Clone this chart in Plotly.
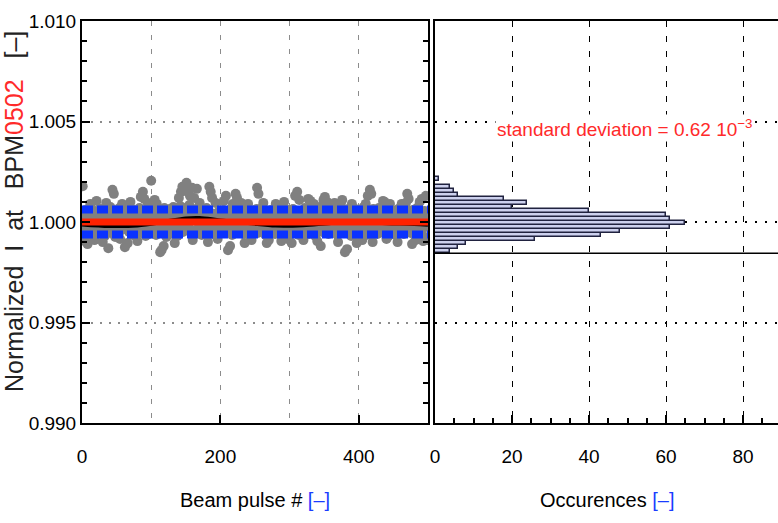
import plotly.graph_objects as go

# ---------------- data ----------------
# pulse-by-pulse deviation from 1.000, in units of 1e-5
dev_1e5 = [
    45, 178, -30, 20, -95, 60, -50, 10, -110, 35, -20, 70, 90, -65, 5, 40, -40, 25, -90, 55, -10, 105, -60, 30, -5,
    15, -45, 65, -25, 40, -100, 50, 0, -70, 30, 95, -35, 20, -130, 60, -15, 75, -55, 10, 160, -30, 140, 35, -75, 5,
    45, -20, 25, -60, 70, -85, 15, -40, 90, 0, 50, -30, -125, 35, -10, 60, -105, 20, -50, 40, 100, -25, 65, -65, 10,
    30, -45, 55, -5, 20, -95, 45, -30, 70, -15, 125, -55, 35, 150, -20, 115, 5, -70, 50, -35, 95, 25, -60, 40, -10,
    205, 15, -40, 60, -20, 110, 30, -65, 90, 0, 45, -30, 20, -150, 55, -140, 10, -50, -120, 70, -25, 35, -75, 50, -5,
    25, -45, 65, -15, 40, 0, -60, 75, 20, -105, 50, -35, 30, -70, 60, 120, -20, 80, 150, 10, 175, -50, 160, 45, 180,
    70, 195, 35, 150, -25, 85, 130, 55, -40, 170, -90, 40, 120, 15, -55, 65, 165, 25, -30, 50, 95, -10, 30, -65, 45,
    -20, 55, 10, -50, 35, 70, -35, -100, 60, 175, -15, 150, 25, 120, -60, 40, 5, -40, 95, 20, -70, -85, 50, 0, 30,
    -25, 45, -55, 15, 60, 105, -30, 35, 130, -10, 50, -140, 20, -45, -120, 65, 0, -65, 90, 30, -20, 55, 140, -35, 120,
    10, -50, 40, -15, 70, 95, -30, 25, -60, 50, -105, 5, 35, -40, 60, 90, -20, 15, -70, 45, -90, 30, -10, 55, -45,
    20, -25, 65, 170, -55, 140, 35, -15, 50, -40, 10, 75, 95, -30, 25, -65, 40, -105, 0, 55, -90, 30, -20, 60, -50,
    15, 45, -35, 25, -60, 90, 5, -20, 55, -45, 35, 70, -10, -95, 40, -30, 20, 100, -55, 50, 0, -70, -85, 30, 60,
    -15, 40, -50, -105, 25, 65, -30, 10, 130, 45, -40, 150, 20, -65, 110, 35, -20, 55, 0, -55, -90, 30, 70, -10, 45,
    -35, 20, 115, -60, 50, 105, -25, 35, 5, -45, 90, 15, -70, 60, -15, -95, 40, -30, 25, 75, -120, 10, -50, 45, 110,
    -20, 125, 30, -40, 100, 55, -60, 15, 40, -25, 65, 0, -55, 35, -10, 95, 20, -35, 50, -65, -100, 25, 60, -15, 90,
    -45, 110, 40, -20, 55, -150, 15, -55, -135, 30, 65, -30, 5, 45, -70, 90, 20, -40, 70, 0, -60, 35, -105, 50, -15,
    25, -50, 60, -20, 40, -90, 15, 75, -35, 50, 90, -65, 30, 130, -10, 45, 160, 20, 140, -45, -100, 65, 5, -30, 55,
    -25, 40, -60, 20, 70, -40, 10, 50, -15, 35, 105, -55, 100, 25, -30, -85, 60, 0, -70, 45, 90, -20, 30, -50, 15,
    55, -35, 20, -65, 40, 10, -100, 65, -25, 30, -45, 50, 90, -10, 35, -60, 15, 75, 95, -40, 140, 25, 115, -20, 45,
    -55, 30, -110, 60, 5, -30, 40, -90, 20, 70, -45, 10, 50, 100, -15, 35, 115, -65, -95, 25, 55, -25, 130, 0, -90,
]
pulses = list(range(len(dev_1e5)))
intensity = [1.0 + d * 1e-5 for d in dev_1e5]

mean_value = 1.0000
std_value = 0.00062

# running-average trace (black) read at a few pulses
run_pulses = [0, 40, 80, 120, 150, 170, 200, 240, 280, 320, 360, 400, 440, 480, 500]
run_values = [0.99988, 0.99980, 0.99983, 1.00002, 1.00018, 1.00020, 1.00008, 0.99995, 0.99982,
              0.99984, 0.99995, 1.00000, 0.99994, 0.99990, 0.99986]

# histogram: bin centres and occurrences
bin_width = 0.0002
bin_centers = [0.99855, 0.99875, 0.99895, 0.99915, 0.99935, 0.99955, 0.99975, 0.99995,
               1.00015, 1.00035, 1.00055, 1.00075, 1.00095, 1.00115, 1.00135, 1.00155,
               1.00175, 1.00195, 1.00215]
counts = [4, 6, 8, 26, 43, 48, 61, 65, 61, 60, 40, 20, 24, 18, 6, 5, 4, 0, 1]
hist_floor = 0.99845

y_ticks = [0.990, 0.995, 1.000, 1.005, 1.010]
y_ticktext = ["0.990", "0.995", "1.000", "1.005", "1.010"]
x1_ticks = [0, 200, 400]
x2_ticks = [0, 20, 40, 60, 80]

# ---------------- figure ----------------
W, H = 778, 523
L1, R1 = 82, 428
L2, R2 = 435, 778
TOP, BOT = 21, 423

fig = go.Figure()

fig.add_trace(go.Scatter(
    x=pulses, y=intensity, mode="markers",
    marker=dict(color="#808080", size=10, line=dict(width=0)),
    xaxis="x", yaxis="y", showlegend=False))

fig.add_trace(go.Scatter(
    x=run_pulses, y=run_values, mode="lines", line=dict(color="black", width=4, shape="spline"),
    xaxis="x", yaxis="y", showlegend=False))

fig.add_trace(go.Scatter(
    x=[0, 500], y=[mean_value, mean_value], mode="lines",
    line=dict(color="#ff2200", width=7), xaxis="x", yaxis="y", showlegend=False))

for s in (1, -1):
    fig.add_trace(go.Scatter(
        x=[0, 500], y=[mean_value + s * std_value] * 2, mode="lines",
        line=dict(color="#0a32ff", width=8, dash="11px,4px"),
        xaxis="x", yaxis="y", showlegend=False))

fig.add_trace(go.Bar(
    x=counts, y=bin_centers, orientation="h", width=bin_width,
    marker=dict(color="#cdd1ee", line=dict(color="#20223f", width=1.5)),
    xaxis="x2", yaxis="y2", showlegend=False))

FONT = "Liberation Sans, Arial, sans-serif"
tickfont = dict(family=FONT, size=19, color="black")

fig.update_layout(
    width=W, height=H,
    margin=dict(l=0, r=0, t=0, b=0, autoexpand=False),
    paper_bgcolor="white", plot_bgcolor="white",
    bargap=0,
    xaxis=dict(
        domain=[L1 / W, R1 / W], range=[0, 500], anchor="y", automargin=False,
        tickvals=x1_ticks, ticktext=[str(v) for v in x1_ticks],
        ticks="inside", ticklen=8, tickwidth=1.5, tickcolor="black",
        showline=True, linecolor="black", linewidth=2, mirror=True,
        showgrid=True, gridcolor="#8c8c8c", gridwidth=1, griddash="5px,9px",
        minor=dict(dtick=100, tick0=0, showgrid=True, gridcolor="#8c8c8c",
                   gridwidth=1, griddash="5px,9px", ticks=""),
        zeroline=False, tickfont=tickfont, ticklabelstandoff=15),
    yaxis=dict(
        domain=[1 - BOT / H, 1 - TOP / H], range=[0.990, 1.010], anchor="x", automargin=False,
        tickvals=y_ticks, ticktext=y_ticktext,
        ticks="inside", ticklen=8, tickwidth=1.5, tickcolor="black",
        showline=True, linecolor="black", linewidth=2, mirror="ticks",
        showgrid=True, gridcolor="#8c8c8c", gridwidth=1.5, griddash="2px,7px",
        minor=dict(dtick=0.001, tick0=0.990, ticks="inside", ticklen=5,
                   tickwidth=1.5, tickcolor="black", showgrid=False),
        zeroline=False, tickfont=tickfont),
    xaxis2=dict(
        domain=[L2 / W, 1.0], range=[0, (R2 - L2) / 3.85], anchor="y2", automargin=False,
        tickvals=x2_ticks, ticktext=[str(v) for v in x2_ticks],
        ticks="inside", ticklen=8, tickwidth=1.5, tickcolor="black",
        showline=True, linecolor="black", linewidth=2, mirror=True,
        showgrid=True, gridcolor="black", gridwidth=1.2, griddash="6px,9px",
        minor=dict(dtick=5, ticks="inside", ticklen=5, tickwidth=1.5,
                   tickcolor="black", showgrid=False),
        zeroline=False, tickfont=tickfont, ticklabelstandoff=15),
    yaxis2=dict(
        domain=[1 - BOT / H, 1 - TOP / H], range=[0.990, 1.010], anchor="x2", automargin=False,
        tickvals=y_ticks, showticklabels=False, ticks="",
        showline=True, linecolor="black", linewidth=2,
        showgrid=True, gridcolor="black", gridwidth=2, griddash="2px,8px",
        zeroline=False),
)

fig.add_shape(type="line", xref="x2 domain", yref="y2", x0=0, x1=1,
              y0=hist_floor, y1=hist_floor, line=dict(color="black", width=1.5))

titlefont = dict(family=FONT, size=20, color="black")
fig.add_annotation(xref="paper", yref="paper", x=(L1 + R1) / 2 / W, y=1 - 500 / H,
                   text="Beam pulse # <span style='color:#1a3cff'>[–]</span>",
                   showarrow=False, font=titlefont, xanchor="center", yanchor="middle")
fig.add_annotation(xref="paper", yref="paper", x=607 / W, y=1 - 500 / H,
                   text="Occurences <span style='color:#1a3cff'>[–]</span>",
                   showarrow=False, font=titlefont, xanchor="center", yanchor="middle")
fig.add_annotation(xref="paper", yref="paper", x=14 / W, y=1 - 212 / H,
                   text=("Normalized&nbsp;&nbsp;I&nbsp;&nbsp;at&nbsp;&nbsp;&nbsp;BPM"
                         "<span style='color:#ff2a2a'>0502</span>&nbsp;&nbsp;&nbsp;[–]"),
                   textangle=-90, showarrow=False,
                   font=dict(family=FONT, size=25, color="#222222"),
                   xanchor="center", yanchor="middle")
fig.add_annotation(xref="x2", yref="y2", x=(625 - L2) / 3.85, y=1.0047,
                   text="standard deviation = 0.62 10<sup>−3</sup>",
                   showarrow=False, bgcolor="white", borderpad=1,
                   font=dict(family=FONT, size=19, color="#ff2a2a"),
                   xanchor="center", yanchor="middle")

fig.write_html("out.html")
